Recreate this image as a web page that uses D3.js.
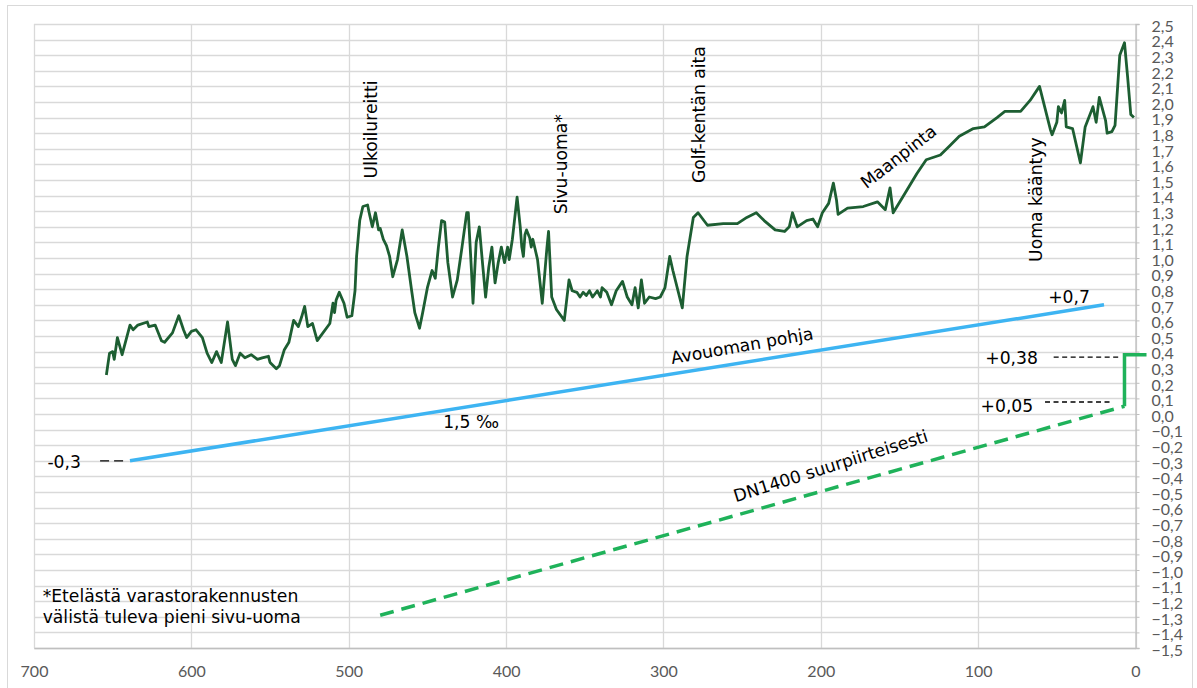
<!DOCTYPE html>
<html>
<head>
<meta charset="utf-8">
<script src="https://cdn.jsdelivr.net/npm/d3@7"></script>
<style>
  body { margin: 0; background: #fff; }
  svg { display: block; }
</style>
</head>
<body>
<div id="chart"></div>
<script>
// distance from the outlet (m) and ground level (m)
const groundX = [654,652,650,649,647,644,639,637,634,628,627,623,619,617,612,608,605,603,600,597,593,590,587,584,581,577,574,572,569,566,562,558,555,551,550,546,544,541,538,535,532,530,528,526,523,520,
    512,510,509,508,506,503,501,498,496,495,493,491,488,487,485,483,481,480,478,476,474,472,469,466,463,460,458,455,453,450,447,445,443,441,439,437,434,431,428,425,424,422,421,419,417,415,413,411,409,407,405,403,401,399,398,396,393,
    391,390,389,388,387,385,384,383,380,377,374,373,371,368,363,360,358,355,353,351,349,347,345,342,340,339,336,333,330,326,323,320,318,316,314,312,309,305,302,299,296,294,288,285,281,278,
    272,262,253,247,241,236,229,223,220,218,215,209,205,202,199,195,192,190,189,183,173,164,159,156,154,148,139,133,124,118,112,103,96,88,83,73,67,61,54,53,50,49,47,45,44,40,35,32,27,25,23,19,18,15,13,10,7,5,3,1];
const groundY = [0.25,0.39,0.40,0.35,0.49,0.38,0.57,0.54,0.57,0.59,0.56,0.57,0.47,0.46,0.52,0.63,0.54,0.49,0.53,0.54,0.49,0.39,0.33,0.40,0.33,0.59,0.35,0.31,0.39,0.36,0.38,0.35,0.36,0.37,0.33,0.29,0.31,0.41,0.46,0.60,0.56,0.62,0.69,0.56,0.58,0.47,
    0.58,0.71,0.65,0.73,0.78,0.71,0.62,0.63,0.79,1.01,1.24,1.33,1.34,1.29,1.20,1.29,1.18,1.19,1.12,1.08,1.01,0.88,0.99,1.18,1.01,0.79,0.65,0.55,0.65,0.81,0.92,0.87,1.07,1.24,1.23,0.97,0.75,0.86,1.07,1.29,1.29,0.92,0.71,1.10,1.20,0.97,0.75,0.94,1.07,0.84,0.97,1.07,0.97,1.07,0.99,1.12,1.39,
    1.20,1.07,1.01,1.15,1.18,1.13,1.07,1.12,0.99,0.71,1.07,1.17,0.75,0.67,0.60,0.86,0.79,0.78,0.75,0.78,0.76,0.79,0.75,0.79,0.75,0.81,0.78,0.70,0.79,0.85,0.75,0.70,0.81,0.68,0.86,0.71,0.75,0.74,0.75,0.81,1.01,0.92,0.68,1.01,1.26,1.29,
    1.21,1.22,1.22,1.26,1.29,1.24,1.18,1.17,1.20,1.29,1.20,1.24,1.25,1.20,1.29,1.35,1.48,1.37,1.28,1.32,1.33,1.36,1.31,1.45,1.29,1.39,1.54,1.63,1.66,1.72,1.78,1.83,1.84,1.90,1.94,1.94,2.01,2.10,1.82,1.79,1.87,1.97,1.93,2.01,1.84,1.83,1.61,1.84,1.97,1.87,2.03,1.88,1.80,1.81,1.85,2.30,2.38,2.16,1.92,1.90];

// open channel bottom, 1,5 per mille
const channelX = [639, 20];
const channelY = [-0.3, 0.7];

// DN1400 pipe (dashed part) and its riser at the end
const pipeX = [480, 7];
const pipeY = [-1.29, 0.05];
const riserX = [7, 7, -7];
const riserY = [0.05, 0.38, 0.38];

const xTicks = [700, 600, 500, 400, 300, 200, 100, 0];
const yTicks = d3.range(-15, 26).map(d => d / 10);

const margin = { top: 24, right: 61.5, bottom: 40, left: 34 },
    width = 1197 - margin.left - margin.right,
    height = 688 - margin.top - margin.bottom;

const svg = d3.select("#chart")
    .append("svg")
    .attr("width", 1197)
    .attr("height", 688);

// chart frame
svg.append("rect")
    .attr("x", 7.5).attr("y", 5.5)
    .attr("width", 1185).attr("height", 700)
    .attr("fill", "none")
    .attr("stroke", "#d9d9d9");

const g = svg.append("g")
    .attr("transform", `translate(${margin.left},${margin.top})`);

const x = d3.scaleLinear().domain([700, 0]).range([0, width]);
const y = d3.scaleLinear().domain([-1.5, 2.5]).range([height, 0]);

const comma = d => d3.format(".1f")(d).replace(".", ",");

// horizontal grid
g.append("g")
    .selectAll("line")
    .data(yTicks)
    .join("line")
    .attr("x1", 0).attr("x2", width)
    .attr("y1", d => Math.round(y(d)) + 0.5)
    .attr("y2", d => Math.round(y(d)) + 0.5)
    .attr("stroke", "#d9d9d9")
    .attr("stroke-width", 1.3);

// vertical grid
g.append("g")
    .selectAll("line")
    .data(xTicks)
    .join("line")
    .attr("x1", d => Math.round(x(d)) + 0.5)
    .attr("x2", d => Math.round(x(d)) + 0.5)
    .attr("y1", 0).attr("y2", height)
    .attr("stroke", "#d9d9d9")
    .attr("stroke-width", 1.3);

// right y axis
const yAxis = g.append("g")
    .attr("transform", `translate(${width},0)`)
    .call(d3.axisRight(y).tickValues(yTicks).tickFormat(comma).tickSize(4).tickPadding(12));
yAxis.select(".domain").attr("stroke", "#bfbfbf").attr("stroke-width", 1.3);
yAxis.selectAll(".tick line").attr("stroke", "#bfbfbf");
yAxis.selectAll("text")
    .attr("fill", "#595959")
    .attr("dy", "0.45em")
    .style("font-family", "Lato")
    .style("font-size", "16px");

// bottom x axis
const xAxis = g.append("g")
    .attr("transform", `translate(0,${height})`)
    .call(d3.axisBottom(x).tickValues(xTicks).tickSize(0).tickPadding(18));
xAxis.select(".domain").attr("stroke", "#bfbfbf").attr("stroke-width", 1.5);
xAxis.selectAll("text")
    .attr("fill", "#595959")
    .style("font-family", "Lato")
    .style("font-size", "16px");

const line = d3.line().x(d => x(d[0])).y(d => y(d[1]));

// channel bottom
g.append("path")
    .datum(d3.zip(channelX, channelY))
    .attr("d", line)
    .attr("fill", "none")
    .attr("stroke", "#3db4f2")
    .attr("stroke-width", 3.5);

// pipe
g.append("path")
    .datum(d3.zip(pipeX, pipeY))
    .attr("d", line)
    .attr("fill", "none")
    .attr("stroke", "#1fb25a")
    .attr("stroke-width", 3.5)
    .attr("stroke-dasharray", "14,8");

g.append("path")
    .datum(d3.zip(riserX, riserY))
    .attr("d", line)
    .attr("fill", "none")
    .attr("stroke", "#1fb25a")
    .attr("stroke-width", 3.5);

// ground
g.append("path")
    .datum(d3.zip(groundX, groundY))
    .attr("d", line)
    .attr("fill", "none")
    .attr("stroke", "#1d5e32")
    .attr("stroke-width", 2.8)
    .attr("stroke-linejoin", "round");

// dashed leaders for the level labels
const leaders = [
    { x1: 658, x2: 643, y: -0.30, dash: "9,5" },
    { x1: 52, x2: 9, y: 0.365, dash: "5,3.5" },
    { x1: 57.5, x2: 15, y: 0.077, dash: "5,3.5" }
];
g.append("g")
    .selectAll("line")
    .data(leaders)
    .join("line")
    .attr("x1", d => x(d.x1)).attr("x2", d => x(d.x2))
    .attr("y1", d => y(d.y)).attr("y2", d => y(d.y))
    .attr("stroke", "#000")
    .attr("stroke-width", 1.3)
    .attr("stroke-dasharray", d => d.dash);

// annotations
const notes = [
    { text: "Ulkoilureitti", x: 482, y: 1.51, rot: -90, anchor: "start" },
    { text: "Sivu-uoma*", x: 361.5, y: 1.28, rot: -90, anchor: "start" },
    { text: "Golf-kentän aita", x: 273.5, y: 1.48, rot: -90, anchor: "start" },
    { text: "Uoma kääntyy", x: 59.5, y: 0.975, rot: -90, anchor: "start" },
    { text: "Maanpinta", x: 171, y: 1.44, rot: -38, anchor: "start" },
    { text: "Avouoman pohja", x: 294.5, y: 0.32, rot: -10, anchor: "start" },
    { text: "1,5 ‰", x: 440, y: -0.09, rot: 0, anchor: "start" },
    { text: "DN1400 suurpiirteisesti", x: 254, y: -0.565, rot: -17.5, anchor: "start" },
    { text: "+0,7", x: 55.5, y: 0.71, rot: 0, anchor: "start" },
    { text: "+0,38", x: 62, y: 0.32, rot: 0, anchor: "end" },
    { text: "+0,05", x: 65, y: 0.013, rot: 0, anchor: "end" },
    { text: "-0,3", x: 691.5, y: -0.345, rot: 0, anchor: "start" },
    { text: "*Etelästä varastorakennusten", x: 694.5, y: -1.205, rot: 0, anchor: "start" },
    { text: "välistä tuleva pieni sivu-uoma", x: 694.5, y: -1.34, rot: 0, anchor: "start" }
];
g.append("g")
    .selectAll("text")
    .data(notes)
    .join("text")
    .attr("transform", d => `translate(${x(d.x)},${y(d.y)}) rotate(${d.rot})`)
    .attr("text-anchor", d => d.anchor)
    .attr("fill", "#000")
    .style("font-family", "DejaVu Sans")
    .style("font-size", "17.2px")
    .text(d => d.text);
</script>
</body>
</html>
